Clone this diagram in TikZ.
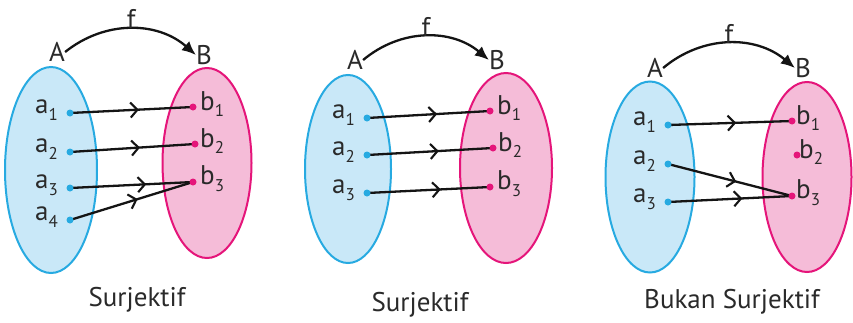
\documentclass[tikz,border=0pt]{standalone}
\usepackage{fontspec}
\setmainfont{PT Sans}
\usetikzlibrary{arrows.meta,decorations.markings}
\pgfdeclarelayer{back}
\pgfdeclarelayer{mid}
\pgfsetlayers{back,mid,main}
\definecolor{setblue}{HTML}{C9E8F8}
\definecolor{setblueline}{HTML}{27AAE1}
\definecolor{setpink}{HTML}{F5BCD8}
\definecolor{setpinkline}{HTML}{E5157A}
\definecolor{txt}{HTML}{2A2A2A}
\newcommand{\lbl}[2]{#1\raisebox{-0.5ex}{\fontsize{17}{17}\selectfont #2}}
\tikzset{
  setA/.style={draw=setblueline, fill=setblue, line width=2pt},
  setB/.style={draw=setpinkline, fill=setpink, line width=2pt},
  adot/.style={circle, fill=setblueline, inner sep=0pt, minimum size=7pt},
  bdot/.style={circle, fill=setpinkline, inner sep=0pt, minimum size=7pt},
  lab/.style={text=txt, font=\fontsize{27}{29}\selectfont, inner sep=0pt},
  maparrow/.style={draw=black!92, line width=2.3pt,
    postaction={decorate, decoration={markings,
      mark=at position #1 with {\arrow{Straight Barb[length=7pt,width=15pt,line width=2.1pt]}}}}},
  maparrow/.default=0.58,
  fun/.style={draw=black!92, line width=2.3pt, -{Latex[length=14pt,width=12pt]}},
}
\begin{document}
\begin{tikzpicture}[x=1pt,y=-1pt]
\useasboundingbox (0,0) rectangle (853,322);
\begin{pgfonlayer}{back}
\fill[white] (0,0) rectangle (853,322);
\draw[setA] (51,170) ellipse [x radius=46, y radius=103];
\draw[setB] (207,163) ellipse [x radius=44.5, y radius=95];
\draw[setA] (348,169) ellipse [x radius=43, y radius=94];
\draw[setB] (506,168) ellipse [x radius=46, y radius=95];
\draw[setA] (650,177) ellipse [x radius=44.5, y radius=95.5];
\draw[setB] (807,177) ellipse [x radius=44.5, y radius=95];
\end{pgfonlayer}

% ---------- Panel 1 ----------
\node[lab] (p1A) at (57,52) {A};
\node[lab] (p1B) at (204,55) {B};
\draw[fun] (p1A.east) to[bend left=40] node[lab, above=-1pt, pos=0.5] (p1f) {f} (p1B.west);
\node[adot] (p1a1) at (70,113) {};
\node[adot] (p1a2) at (70,152) {};
\node[adot] (p1a3) at (70,188) {};
\node[adot] (p1a4) at (70,220) {};
\node[bdot] (p1b1) at (193,107) {};
\node[bdot] (p1b2) at (195,144) {};
\node[bdot] (p1b3) at (193,182) {};
\node[lab, anchor=east] (p1la1) at ([xshift=-12pt,yshift=3pt]p1a1) {\lbl{a}{1}};
\node[lab, anchor=east] (p1la2) at ([xshift=-12pt,yshift=3pt]p1a2) {\lbl{a}{2}};
\node[lab, anchor=east] (p1la3) at ([xshift=-12pt,yshift=3pt]p1a3) {\lbl{a}{3}};
\node[lab, anchor=east] (p1la4) at ([xshift=-12pt,yshift=3pt]p1a4) {\lbl{a}{4}};
\node[lab, anchor=west] (p1lb1) at ([xshift=7pt,yshift=3pt]p1b1) {\lbl{b}{1}};
\node[lab, anchor=west] (p1lb2) at ([xshift=5pt,yshift=3pt]p1b2) {\lbl{b}{2}};
\node[lab, anchor=west] (p1lb3) at ([xshift=7pt,yshift=3pt]p1b3) {\lbl{b}{3}};
\begin{pgfonlayer}{mid}
\draw[maparrow=0.56] (p1a1.center) -- (p1b1.center);
\draw[maparrow=0.56] (p1a2.center) -- (p1b2.center);
\draw[maparrow=0.62] (p1a3.center) -- (p1b3.center);
\draw[maparrow=0.55] (p1a4.center) -- (p1b3.center);
\end{pgfonlayer}
\node[lab] (p1t) at (137,300) {Surjektif};

% ---------- Panel 2 ----------
\node[lab] (p2A) at (355,60) {A};
\node[lab] (p2B) at (497,60) {B};
\draw[fun] (p2A.east) to[bend left=40] node[lab, above=-1pt, pos=0.5] (p2f) {f} (p2B.west);
\node[adot] (p2a1) at (367,118) {};
\node[adot] (p2a2) at (367,155) {};
\node[adot] (p2a3) at (367,193) {};
\node[bdot] (p2b1) at (490,111) {};
\node[bdot] (p2b2) at (493,148) {};
\node[bdot] (p2b3) at (490,187) {};
\node[lab, anchor=east] (p2la1) at ([xshift=-12pt,yshift=3pt]p2a1) {\lbl{a}{1}};
\node[lab, anchor=east] (p2la2) at ([xshift=-12pt,yshift=3pt]p2a2) {\lbl{a}{2}};
\node[lab, anchor=east] (p2la3) at ([xshift=-12pt,yshift=3pt]p2a3) {\lbl{a}{3}};
\node[lab, anchor=west] (p2lb1) at ([xshift=7pt,yshift=3pt]p2b1) {\lbl{b}{1}};
\node[lab, anchor=west] (p2lb2) at ([xshift=5pt,yshift=3pt]p2b2) {\lbl{b}{2}};
\node[lab, anchor=west] (p2lb3) at ([xshift=7pt,yshift=3pt]p2b3) {\lbl{b}{3}};
\begin{pgfonlayer}{mid}
\draw[maparrow=0.57] (p2a1.center) -- (p2b1.center);
\draw[maparrow=0.57] (p2a2.center) -- (p2b2.center);
\draw[maparrow=0.6] (p2a3.center) -- (p2b3.center);
\end{pgfonlayer}
\node[lab] (p2t) at (420,305) {Surjektif};

% ---------- Panel 3 ----------
\node[lab] (p3A) at (655,68) {A};
\node[lab] (p3B) at (803,68) {B};
\draw[fun] (p3A.east) to[bend left=40] node[lab, above=-1pt, pos=0.5] (p3f) {f} (p3B.west);
\node[adot] (p3a1) at (668,125) {};
\node[adot] (p3a2) at (668,164) {};
\node[adot] (p3a3) at (668,202) {};
\node[bdot] (p3b1) at (792,121) {};
\node[bdot] (p3b2) at (797,155) {};
\node[bdot] (p3b3) at (792,196) {};
\node[lab, anchor=east] (p3la1) at ([xshift=-12pt,yshift=3pt]p3a1) {\lbl{a}{1}};
\node[lab, anchor=east] (p3la2) at ([xshift=-12pt,yshift=3pt]p3a2) {\lbl{a}{2}};
\node[lab, anchor=east] (p3la3) at ([xshift=-12pt,yshift=3pt]p3a3) {\lbl{a}{3}};
\node[lab, anchor=west] (p3lb1) at ([xshift=4pt,yshift=3pt]p3b1) {\lbl{b}{1}};
\node[lab, anchor=west] (p3lb2) at ([xshift=2pt,yshift=3pt]p3b2) {\lbl{b}{2}};
\node[lab, anchor=west] (p3lb3) at ([xshift=4pt,yshift=3pt]p3b3) {\lbl{b}{3}};
\begin{pgfonlayer}{mid}
\draw[maparrow=0.55] (p3a1.center) -- (p3b1.center);
\draw[maparrow=0.55] (p3a2.center) -- (p3b3.center);
\draw[maparrow=0.6] (p3a3.center) -- (p3b3.center);
\end{pgfonlayer}
\node[lab] (p3t) at (732,302) {Bukan Surjektif};
\end{tikzpicture}
\end{document}
